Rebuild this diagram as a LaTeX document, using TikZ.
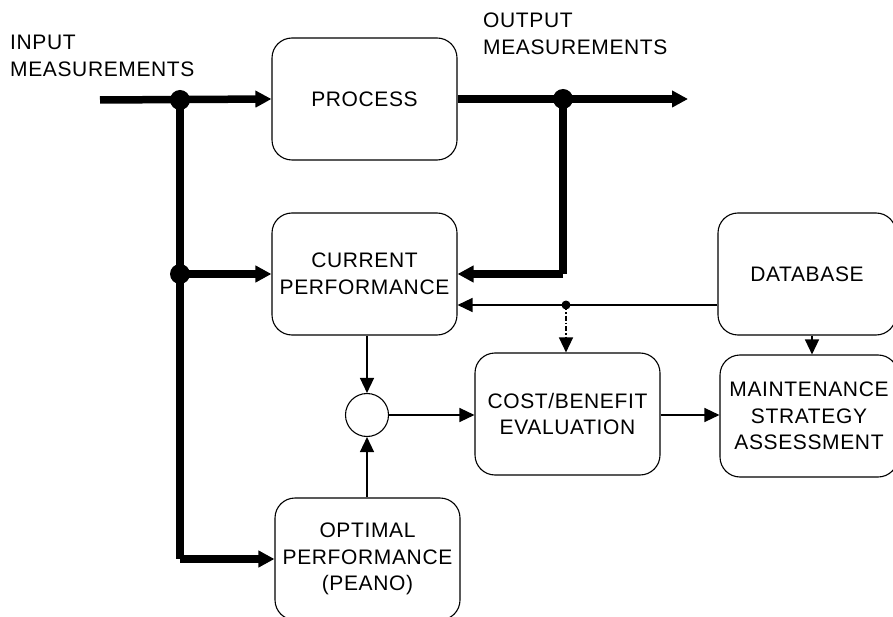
\documentclass[tikz,border=0pt]{standalone}
\usepackage{fontspec}
\setmainfont[LetterSpace=3]{Liberation Sans}
\usetikzlibrary{arrows.meta}
\begin{document}
\begin{tikzpicture}[x=1pt,y=-1pt,
  txt/.style={font=\fontsize{21}{26.5}\selectfont},
  box/.style={txt,draw,line width=1.1pt,rounded corners=20pt,align=center,
    inner sep=0pt,minimum width=185pt,minimum height=122pt},
  lbl/.style={txt,align=left,inner sep=0pt,anchor=north west},
  heavy/.style={line width=7.5pt,-{Triangle[length=16pt,width=16pt]}},
  heavyline/.style={line width=7.5pt},
  fine/.style={line width=1.4pt,-{Triangle[length=15pt,width=14pt]}},
  fineline/.style={line width=1.4pt},
  dashdot/.style={line width=1.3pt,dash pattern=on 5pt off 2pt on 1.5pt off 2pt,
    -{Triangle[length=15pt,width=14pt]}},
  bigdot/.style={fill=black},
]
\useasboundingbox (0,0) rectangle (893,617);

% blocks
\node[box] (proc) at (364.5,99) {PROCESS};
\node[box] (cur) at (364.5,274) {CURRENT\\PERFORMANCE};
\node[box] (opt) at (367.5,559) {OPTIMAL\\PERFORMANCE\\(PEANO)};
\node[box] (cost) at (567.5,414) {COST/BENEFIT\\EVALUATION};
\node[box,minimum width=178pt] (db) at (807,274) {DATABASE};
\node[box,minimum width=178pt] (maint) at (809,416) {MAINTENANCE\\STRATEGY\\ASSESSMENT};
\node[circle,draw,line width=1.1pt,minimum size=43pt,inner sep=0pt] (sum) at (367,415) {};

% free labels
\node[lbl] (inlbl) at (10,35) {INPUT\\MEASUREMENTS};
\node[lbl] (outlbl) at (483,13) {OUTPUT\\MEASUREMENTS};

% junction points
\coordinate (in) at (100,100);
\coordinate (j1) at (180,100);
\coordinate (j2) at (180,274);
\coordinate (j3) at (563,99);
\coordinate (out) at (688,99);
\coordinate (tap) at (566,305);

% heavy input lines
\draw[heavy] (in) -- (proc.west);
\draw[heavyline] (j1) -- (j1 |- opt.west);
\draw[heavy] (j1 |- opt.west) -- (opt.west);
\draw[heavy] (j2) -- (cur.west);
\fill[bigdot] (j1) circle (10pt);
\fill[bigdot] (j2) circle (10pt);

% heavy output lines
\draw[heavy] (proc.east) -- (out);
\draw[heavyline] (j3) -- (j3 |- cur.east);
\draw[heavy] (j3 |- cur.east) -- (cur.east);
\fill[bigdot] (j3) circle (10pt);

% database feedback
\draw[fine] (db.west |- tap) -- (cur.east |- tap);
\fill[bigdot] (tap) circle (4.5pt);
\draw[dashdot] (tap) -- (tap |- cost.north);
\draw[fine] (db.south -| 812,0) -- (maint.north -| 812,0);

% comparison
\draw[fine] (cur.south -| sum) -- (sum.north);
\draw[fine] (opt.north -| sum) -- (sum.south);
\draw[fine] (sum.east) -- (cost.west |- sum.east);
\draw[fine] (cost.east |- sum.east) -- (maint.west |- sum.east);
\end{tikzpicture}
\end{document}
